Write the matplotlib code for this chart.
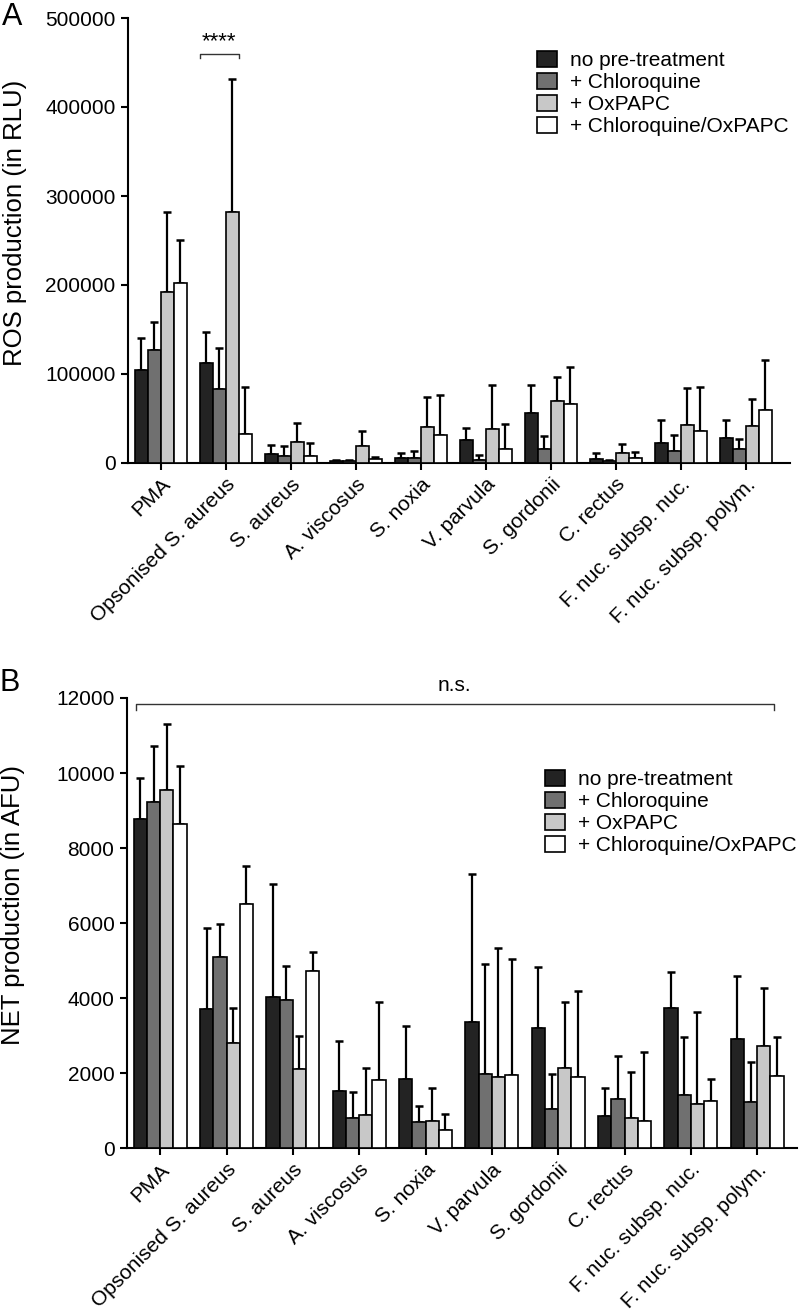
import numpy as np
import matplotlib
matplotlib.use("Agg")
import matplotlib.pyplot as plt
from matplotlib.patches import Patch

plt.rcParams['font.family'] = ['Liberation Sans', 'DejaVu Sans']

categories = ['PMA', 'Opsonised S. aureus', 'S. aureus', 'A. viscosus', 'S. noxia',
              'V. parvula', 'S. gordonii', 'C. rectus', 'F. nuc. subsp. nuc.',
              'F. nuc. subsp. polym.']
treatments = ['no pre-treatment', '+ Chloroquine', '+ OxPAPC', '+ Chloroquine/OxPAPC']
colors = ['#232323', '#707070', '#c8c8c8', '#ffffff']

# Panel A - ROS production (RLU), mean and SD
ros_none = [105000, 112000, 10400, 2500, 5500, 25500, 55800, 4800, 22700, 28500]
ros_chloro = [127000, 82800, 8300, 2000, 5500, 3600, 16000, 2000, 13300, 15700]
ros_oxpapc = [191800, 281700, 23600, 18800, 40000, 37700, 70000, 11000, 43000, 41600]
ros_both = [202600, 32600, 8300, 4400, 31000, 16000, 66500, 5200, 36000, 59200]

ros_sd_none = [35000, 34800, 10100, 500, 6000, 14100, 31500, 6200, 25300, 19500]
ros_sd_chloro = [31000, 46100, 11000, 1000, 7800, 5900, 14700, 1000, 17700, 11600]
ros_sd_oxpapc = [89900, 150100, 21500, 16900, 34000, 50300, 27000, 10500, 41600, 30400]
ros_sd_both = [48300, 52400, 14400, 2200, 45000, 27500, 41100, 7300, 49700, 56200]

# Panel B - NET production (AFU), mean and SD
net_none = [8770, 3700, 4020, 1520, 1850, 3370, 3200, 850, 3750, 2900]
net_chloro = [9230, 5110, 3960, 820, 700, 1970, 1060, 1310, 1430, 1240]
net_oxpapc = [9540, 2800, 2100, 880, 720, 1900, 2150, 800, 1170, 2720]
net_both = [8650, 6500, 4720, 1820, 480, 1950, 1900, 740, 1260, 1920]

net_sd_none = [1100, 2170, 3020, 1330, 1400, 3930, 1630, 770, 960, 1680]
net_sd_chloro = [1490, 880, 910, 680, 420, 2950, 920, 1160, 1540, 1070]
net_sd_oxpapc = [1780, 930, 900, 1270, 900, 3450, 1740, 1220, 2450, 1550]
net_sd_both = [1530, 1030, 520, 2080, 440, 3100, 2300, 1820, 590, 1050]

ros_means = [ros_none, ros_chloro, ros_oxpapc, ros_both]
ros_sds = [ros_sd_none, ros_sd_chloro, ros_sd_oxpapc, ros_sd_both]
net_means = [net_none, net_chloro, net_oxpapc, net_both]
net_sds = [net_sd_none, net_sd_chloro, net_sd_oxpapc, net_sd_both]

fig = plt.figure(figsize=(8, 13.16), dpi=100)
axA = fig.add_axes([128 / 800, 1 - 463 / 1316, 662 / 800, 445 / 1316])
axB = fig.add_axes([127 / 800, 1 - 1148.3 / 1316, 670 / 800, 450.3 / 1316])

x = np.arange(len(categories))
width = 0.2
offsets = [-0.3, -0.1, 0.1, 0.3]


def draw_bars(ax, means, sds):
    for i in range(4):
        m = np.array(means[i])
        s = np.array(sds[i])
        ax.bar(x + offsets[i], m, width, color=colors[i], edgecolor='black',
               linewidth=1.2, zorder=3)
        ax.errorbar(x + offsets[i], m, yerr=[np.zeros_like(s), s], fmt='none',
                    ecolor='black', elinewidth=1.6, capsize=2.8, capthick=1.8,
                    zorder=2)


def style_axis(ax, ymax, step, ylabel, xmax):
    ax.set_xlim(-0.5, xmax)
    ax.set_ylim(0, ymax)
    ax.set_yticks(np.arange(0, ymax + 1, step))
    ax.set_xticks(x)
    ax.set_xticklabels(categories, rotation=45, ha='right', va='top',
                       rotation_mode='anchor', fontsize=15)
    for sp in ['top', 'right']:
        ax.spines[sp].set_visible(False)
    for sp in ['left', 'bottom']:
        ax.spines[sp].set_linewidth(1.5)
    ax.tick_params(axis='both', direction='out', length=5, width=1.5, pad=3.5)
    ax.tick_params(axis='y', labelsize=15, pad=4)
    ax.set_ylabel(ylabel, fontsize=18.5)
    ax.yaxis.set_label_coords(-0.152, 0.54)


draw_bars(axA, ros_means, ros_sds)
style_axis(axA, 500000, 100000, 'ROS production (in RLU)', 9.68)

draw_bars(axB, net_means, net_sds)
style_axis(axB, 12000, 2000, 'NET production (in AFU)', 9.6)

# significance bracket panel A
xa0, xa1, ya = 1 - 0.4, 1 + 0.2, 460000
axA.plot([xa0, xa0, xa1, xa1], [ya - 5000, ya, ya, ya - 5000], color='#333333',
         lw=1, clip_on=False)
axA.text((xa0 + xa1) / 2, ya + 2000, '****', ha='center', va='bottom', fontsize=16)

# n.s. bracket panel B
xb0, xb1, yb = -0.37, 9.25, 11840
axB.plot([xb0, xb0, xb1, xb1], [yb - 150, yb, yb, yb - 150], color='#333333',
         lw=1, clip_on=False)
axB.text((xb0 + xb1) / 2, yb + 250, 'n.s.', ha='center', va='bottom', fontsize=15)

handles = [Patch(facecolor=c, edgecolor='black', linewidth=1.2) for c in colors]
leg_kw = dict(frameon=False, fontsize=15, handlelength=0.96, handleheight=0.77,
              labelspacing=0.15, handletextpad=0.62, borderpad=0, borderaxespad=0,
              loc='upper left')
axA.legend(handles, treatments, bbox_to_anchor=(537 / 800, 1 - 51 / 1316),
           bbox_transform=fig.transFigure, **leg_kw)
axB.legend(handles, treatments, bbox_to_anchor=(545 / 800, 1 - 770 / 1316),
           bbox_transform=fig.transFigure, **leg_kw)

fig.text(2 / 800, 1 - 2 / 1316, 'A', fontsize=22, ha='left', va='top')
fig.text(0 / 800, 1 - 668 / 1316, 'B', fontsize=22, ha='left', va='top')

fig.savefig('out.png', dpi=100)
